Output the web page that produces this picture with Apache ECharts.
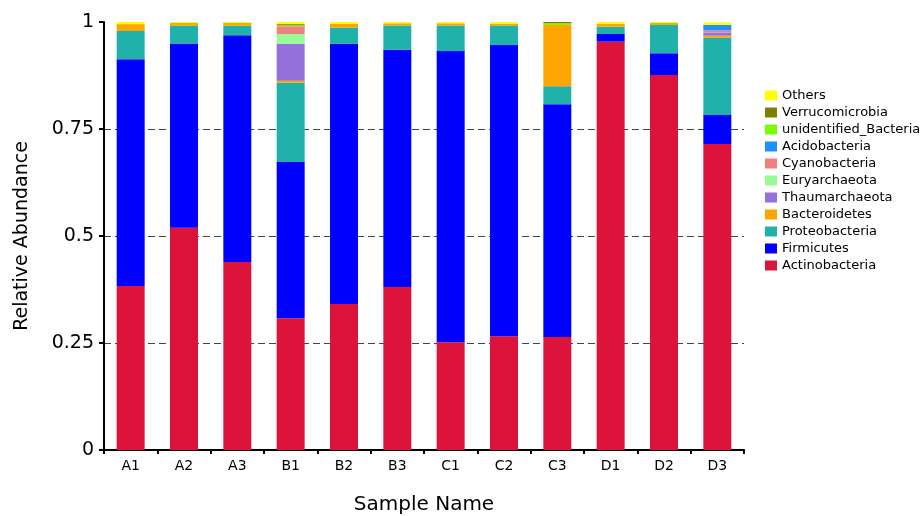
<!DOCTYPE html>
<html>
<head>
<meta charset="utf-8">
<script src="https://cdn.jsdelivr.net/npm/echarts@6/dist/echarts.min.js"></script>
<style>
  html, body { margin: 0; padding: 0; background: #fff; }
  #chart { width: 920px; height: 516px; }
</style>
</head>
<body>
<div id="chart"></div>
<script>
// Samples along the x axis
const samples = ['A1', 'A2', 'A3', 'B1', 'B2', 'B3', 'C1', 'C2', 'C3', 'D1', 'D2', 'D3'];

// Relative abundance of each phylum per sample (stacked bottom to top)
const actinobacteria   = [0.383, 0.519, 0.439, 0.308, 0.341, 0.381, 0.252, 0.266, 0.264, 0.954, 0.876, 0.715];
const firmicutes       = [0.530, 0.431, 0.530, 0.365, 0.608, 0.554, 0.680, 0.680, 0.544, 0.018, 0.051, 0.068];
const proteobacteria   = [0.066, 0.041, 0.022, 0.185, 0.038, 0.057, 0.060, 0.046, 0.042, 0.017, 0.066, 0.180];
const bacteroidetes    = [0.016, 0.004, 0.004, 0.005, 0.009, 0.005, 0.005, 0.004, 0.143, 0.007, 0.002, 0.005];
const thaumarchaeota   = [0, 0, 0, 0.086, 0, 0, 0, 0, 0, 0, 0, 0.007];
const euryarchaeota    = [0, 0, 0, 0.023, 0, 0, 0, 0, 0, 0, 0, 0];
const cyanobacteria    = [0, 0, 0, 0.018, 0, 0, 0, 0, 0, 0, 0, 0.005];
const acidobacteria    = [0, 0, 0, 0, 0, 0, 0, 0, 0, 0, 0, 0.013];
const unidentifiedBact = [0, 0, 0, 0.002, 0, 0, 0, 0, 0.004, 0, 0, 0];
const verrucomicrobia  = [0, 0.002, 0.002, 0.003, 0, 0, 0, 0, 0.003, 0, 0.002, 0];
const others           = [0.005, 0.003, 0.003, 0.005, 0.004, 0.003, 0.003, 0.004, 0, 0.004, 0.003, 0.006];

// Y axis ticks
const yTicks = [0, 0.25, 0.5, 0.75, 1];

const phyla = [
  { name: 'Actinobacteria',        data: actinobacteria,   color: '#DC143C' },
  { name: 'Firmicutes',            data: firmicutes,       color: '#0000FF' },
  { name: 'Proteobacteria',        data: proteobacteria,   color: '#20B2AA' },
  { name: 'Bacteroidetes',         data: bacteroidetes,    color: '#FFA500' },
  { name: 'Thaumarchaeota',        data: thaumarchaeota,   color: '#9370DB' },
  { name: 'Euryarchaeota',         data: euryarchaeota,    color: '#98FB98' },
  { name: 'Cyanobacteria',         data: cyanobacteria,    color: '#F08080' },
  { name: 'Acidobacteria',         data: acidobacteria,    color: '#1E90FF' },
  { name: 'unidentified_Bacteria', data: unidentifiedBact, color: '#7CFC00' },
  { name: 'Verrucomicrobia',       data: verrucomicrobia,  color: '#808000' },
  { name: 'Others',                data: others,           color: '#FFFF00' }
];

const FONT = 'DejaVu Sans';

const chart = echarts.init(document.getElementById('chart'), null, { renderer: 'canvas' });

chart.setOption({
  animation: false,
  backgroundColor: '#ffffff',
  textStyle: { fontFamily: FONT },
  grid: { left: 104, right: 176, top: 22, bottom: 66, containLabel: false, outerBoundsMode: 'none' },
  legend: {
    orient: 'vertical',
    left: 760,
    top: 84,
    itemWidth: 12,
    itemHeight: 10,
    itemGap: 4,
    icon: 'rect',
    data: phyla.map(p => p.name).reverse(),
    textStyle: { fontFamily: FONT, fontSize: 13, color: '#000' }
  },
  xAxis: {
    type: 'category',
    data: samples,
    name: 'Sample Name',
    nameLocation: 'middle',
    nameGap: 45,
    nameTextStyle: { fontFamily: FONT, fontSize: 20, color: '#000' },
    axisLine: { lineStyle: { color: '#000', width: 2 } },
    axisTick: { show: true, alignWithLabel: false, length: 4, lineStyle: { color: '#000', width: 2 } },
    axisLabel: { fontFamily: FONT, fontSize: 14, color: '#000', margin: 9 }
  },
  yAxis: {
    type: 'value',
    min: yTicks[0],
    max: yTicks[yTicks.length - 1],
    interval: yTicks[1] - yTicks[0],
    name: 'Relative Abundance',
    nameLocation: 'middle',
    nameGap: 72,
    nameTextStyle: { fontFamily: FONT, fontSize: 19, color: '#000' },
    axisLine: { show: true, lineStyle: { color: '#000', width: 2 } },
    axisTick: { show: true, length: 5, lineStyle: { color: '#000', width: 2 } },
    axisLabel: { fontFamily: FONT, fontSize: 19, color: '#000', margin: 10 },
    splitLine: {
      show: true,
      showMinLine: false,
      showMaxLine: false,
      lineStyle: { color: '#444', type: [7, 4], width: 1 }
    }
  },
  series: phyla.map(p => ({
    name: p.name,
    type: 'bar',
    stack: 'total',
    data: p.data,
    barWidth: 28,
    itemStyle: { color: p.color },
    emphasis: { disabled: true }
  }))
});
</script>
</body>
</html>
